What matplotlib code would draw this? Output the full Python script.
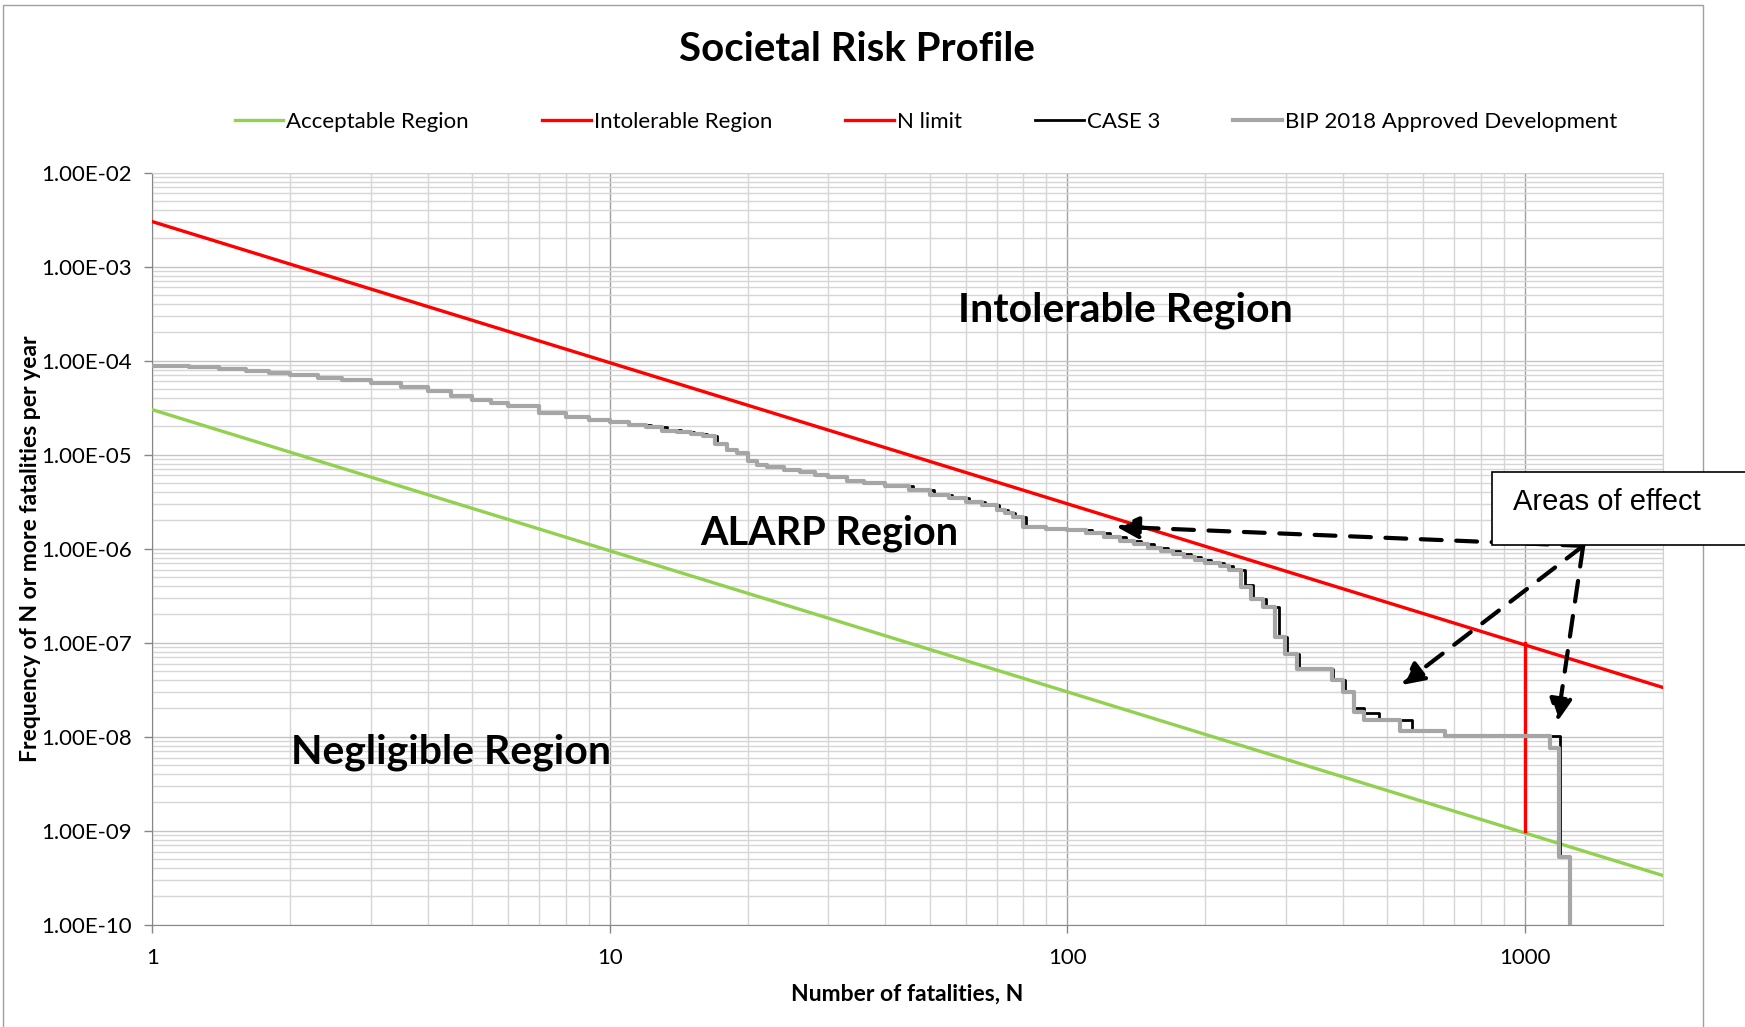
import matplotlib.pyplot as plt
from matplotlib.patches import Rectangle
from matplotlib.ticker import FixedLocator, FuncFormatter, LogLocator, NullFormatter
import numpy as np

plt.rcParams["font.family"] = ["Lato", "DejaVu Sans"]

# criterion lines (end points)
N_LINE = [1, 2000]
ACCEPTABLE_F = [3.0e-5, 3.35e-10]
INTOLERABLE_F = [3.0e-3, 3.35e-8]
N_LIMIT_N = [1000, 1000]
N_LIMIT_F = [1.0e-9, 1.0e-7]

# F-N step curves (value holds from N[i] to N[i+1])
BIP_N = [1, 1.2, 1.4, 1.6, 1.8, 2, 2.3, 2.6, 3, 3.5, 4, 4.5, 5, 5.5, 6, 7, 8, 9, 10, 11,
         12, 13, 14, 15, 16, 17, 18, 19, 20, 21, 22, 24, 26, 28, 30, 33, 36, 40, 45, 50,
         55, 60, 65, 70, 73, 76, 80, 90, 100, 110, 120, 130, 140, 150, 160, 170, 180, 190, 200, 215,
         226, 239, 252, 268, 284, 299, 317, 379, 401, 424, 446, 533, 670, 1133, 1186, 1257]
BIP_F = [8.75e-5, 8.5e-5, 8.1e-5, 7.8e-5, 7.4e-5, 7.1e-5, 6.6e-5, 6.2e-5, 5.8e-5, 5.2e-5,
         4.7e-5, 4.2e-5, 3.8e-5, 3.5e-5, 3.25e-5, 2.8e-5, 2.5e-5, 2.33e-5, 2.2e-5, 2.05e-5,
         1.95e-5, 1.8e-5, 1.72e-5, 1.65e-5, 1.58e-5, 1.3e-5, 1.12e-5, 1.03e-5, 8.6e-6, 7.8e-6,
         7.4e-6, 6.9e-6, 6.5e-6, 6.1e-6, 5.75e-6, 5.3e-6, 4.95e-6, 4.6e-6, 4.2e-6, 3.75e-6,
         3.45e-6, 3.15e-6, 2.9e-6, 2.6e-6, 2.4e-6, 2.15e-6, 1.72e-6, 1.63e-6, 1.57e-6, 1.45e-6,
         1.32e-6, 1.22e-6, 1.12e-6, 1.02e-6, 9.5e-7, 8.8e-7, 8.1e-7, 7.5e-7, 7.0e-7, 6.5e-7,
         5.9e-7, 3.9e-7, 2.95e-7, 2.4e-7, 1.16e-7, 7.6e-8, 5.3e-8, 4.0e-8, 3.0e-8, 1.85e-8,
         1.5e-8, 1.16e-8, 1.02e-8, 7.5e-9, 5.3e-10, 1e-11]

CASE3_N = [1, 1.3, 1.4, 1.6, 1.8, 2, 2.3, 2.6, 3, 3.5, 4, 4.5, 5, 5.5, 6, 7, 8, 9, 10, 11,
           12.3, 13.3, 14.3, 15.3, 16.3, 17.1, 18, 19, 20, 21, 22, 24, 26, 28, 30, 33, 36, 40, 46, 51,
           56, 61, 66, 71, 74, 77, 81, 90, 102, 113, 124, 134, 145, 155, 166, 176, 186, 196, 206, 220,
           230, 245, 254, 272, 290, 302, 320, 381, 404, 424, 446, 480, 566, 670, 1192, 1257]
CASE3_F = [8.75e-5, 8.5e-5, 8.1e-5, 7.8e-5, 7.4e-5, 7.1e-5, 6.6e-5, 6.2e-5, 5.8e-5, 5.2e-5,
           4.7e-5, 4.2e-5, 3.8e-5, 3.5e-5, 3.25e-5, 2.8e-5, 2.5e-5, 2.33e-5, 2.2e-5, 2.05e-5,
           1.96e-5, 1.82e-5, 1.73e-5, 1.66e-5, 1.59e-5, 1.3e-5, 1.12e-5, 1.03e-5, 8.6e-6, 7.8e-6,
           7.4e-6, 6.9e-6, 6.5e-6, 6.1e-6, 5.75e-6, 5.3e-6, 4.95e-6, 4.6e-6, 4.2e-6, 3.75e-6,
           3.45e-6, 3.15e-6, 2.9e-6, 2.6e-6, 2.4e-6, 2.15e-6, 1.72e-6, 1.63e-6, 1.57e-6, 1.45e-6,
           1.32e-6, 1.22e-6, 1.12e-6, 1.02e-6, 9.5e-7, 8.8e-7, 8.1e-7, 7.5e-7, 7.0e-7, 6.5e-7,
           5.9e-7, 4.1e-7, 2.95e-7, 2.4e-7, 1.16e-7, 7.6e-8, 5.3e-8, 4.0e-8, 3.0e-8, 2.0e-8,
           1.8e-8, 1.5e-8, 1.16e-8, 1.02e-8, 5.3e-10, 1e-11]

Y_TICKS = [1e-2, 1e-3, 1e-4, 1e-5, 1e-6, 1e-7, 1e-8, 1e-9, 1e-10]
X_TICKS = [1, 10, 100, 1000]

# annotation anchors (data coords)
ARROW_FROM = (1341, 1.07e-6)
ARROW_TIPS = [(128, 1.71e-6), (538, 3.55e-8), (1178, 1.45e-8)]

GREEN = "#92D050"
RED = "#FF0000"
GREY = "#A6A6A6"

fig = plt.figure(figsize=(17.45, 10.27), dpi=100)
ax = fig.add_axes([0.08739, 0.09951, 0.86539, 0.73252])

ax.plot(N_LINE, ACCEPTABLE_F, color=GREEN, lw=2.4, label="Acceptable Region", zorder=3)
ax.plot(N_LINE, INTOLERABLE_F, color=RED, lw=2.4, label="Intolerable Region", zorder=3)
ax.plot(N_LIMIT_N, N_LIMIT_F, color=RED, lw=2.4, label="N limit", zorder=3)
ax.step(CASE3_N, CASE3_F, where="post", color="black", lw=2.0, label="CASE 3", zorder=4)
ax.step(BIP_N, BIP_F, where="post", color=GREY, lw=3.0,
        label="BIP 2018 Approved Development", zorder=5)

ax.set_xscale("log")
ax.set_yscale("log")
ax.set_xlim(1, 2000)
ax.set_ylim(1e-10, 1e-2)

ax.xaxis.set_major_locator(FixedLocator(X_TICKS))
ax.yaxis.set_major_locator(FixedLocator(Y_TICKS))
ax.xaxis.set_minor_locator(LogLocator(base=10, subs=np.arange(2, 10)))
ax.yaxis.set_minor_locator(LogLocator(base=10, subs=np.arange(2, 10), numticks=20))
ax.xaxis.set_minor_formatter(NullFormatter())
ax.yaxis.set_minor_formatter(NullFormatter())
ax.xaxis.set_major_formatter(FuncFormatter(lambda v, p: f"{v:g}"))
ax.yaxis.set_major_formatter(FuncFormatter(lambda v, p: f"{v:.2E}"))

ax.tick_params(which="major", direction="out", length=6, width=1, color="#868686",
               labelsize=16, pad=9)
ax.tick_params(axis="x", which="major", pad=11)
ax.tick_params(which="minor", length=0)

ax.grid(which="major", axis="x", color="#A0A0A0", lw=1)
ax.grid(which="major", axis="y", color="#C4C4C4", lw=1)
ax.grid(which="minor", color="#D6D6D6", lw=1)
ax.set_axisbelow(True)

for side in ["left", "bottom"]:
    ax.spines[side].set_color("#868686")
for side in ["top", "right"]:
    ax.spines[side].set_color("#D0D0D0")

ax.set_xlabel("Number of fatalities, N", fontsize=16.5, fontweight="bold")
ax.set_ylabel("Frequency of N or more fatalities per year", fontsize=16.5, fontweight="bold")
ax.xaxis.set_label_coords(0.5, -0.0917)
ax.xaxis.label.set_va("center")
ax.yaxis.set_label_coords(-0.0805, 0.5)
ax.yaxis.label.set_va("center")

ax.text(134, 3.45e-4, "Intolerable Region", fontsize=29.5, fontweight="bold",
        ha="center", va="center", zorder=6)
ax.text(30.1, 1.47e-6, "ALARP Region", fontsize=28.5, fontweight="bold",
        ha="center", va="center", zorder=6)
ax.text(4.49, 6.87e-9, "Negligible Region", fontsize=29.5, fontweight="bold",
        ha="center", va="center", zorder=6)

fig.text(0.491, 0.952, "Societal Risk Profile", fontsize=29, fontweight="bold",
         ha="center", va="center")

fig.legend(loc="center", bbox_to_anchor=(0.5306, 0.881), ncol=5, frameon=False,
           fontsize=16, handlelength=2.2, handletextpad=0.12, columnspacing=3.3)

# chart-area border
fig.add_artist(Rectangle((0.0017, -0.01), 0.9742, 1.0051, transform=fig.transFigure,
                         fill=False, edgecolor="#A0A0A0", lw=1, zorder=10))

# callout box
fig.add_artist(Rectangle((0.855, 0.4693), 0.16, 0.0711, transform=fig.transFigure,
                         facecolor="white", edgecolor="black", lw=1.2, zorder=11))
fig.text(0.867, 0.5034, "Areas of effect", fontsize=21, family="Liberation Sans",
         ha="left", va="baseline", zorder=12)

for tip in ARROW_TIPS:
    arrow = ax.annotate("", xy=tip, xytext=ARROW_FROM, xycoords="data", textcoords="data",
                        arrowprops=dict(arrowstyle="-|>,head_length=0.9,head_width=0.45",
                                        color="black", lw=3, linestyle=(0, (5, 3.5)),
                                        shrinkA=0, shrinkB=0, mutation_scale=15),
                        annotation_clip=False)
    arrow.set_zorder(13)
    arrow.arrow_patch.set_zorder(13)

fig.savefig("out.png", dpi=100)
